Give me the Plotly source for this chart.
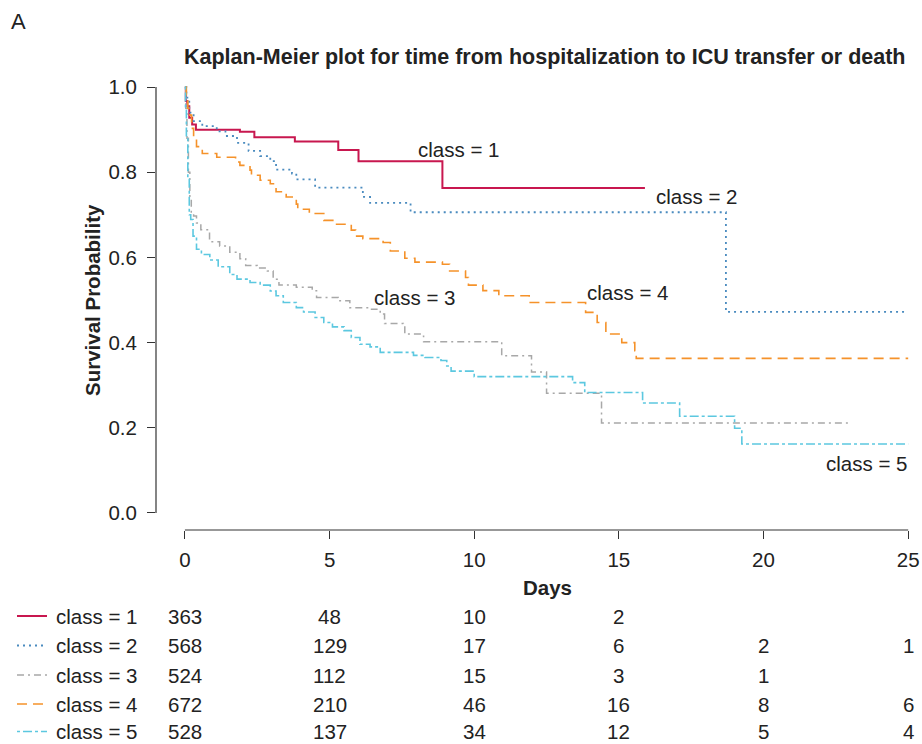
import plotly.graph_objects as go

# ---- data ----
c1_t = [0, 0.03, 0.08, 0.15, 0.25, 0.38, 1.9, 2.4, 3.8, 5.3, 6.0, 8.9, 15.9]
c1_s = [1.0, 0.967, 0.955, 0.928, 0.912, 0.900, 0.895, 0.882, 0.872, 0.852, 0.826, 0.763, 0.763]

c2_t = [0, 0.05, 0.15, 0.3, 0.6, 1.1, 1.4, 1.8, 2.2, 2.6, 2.95, 3.15, 3.7, 3.85, 4.5,
        6.15, 6.4, 7.8, 18.7, 24.9]
c2_s = [1.0, 0.975, 0.94, 0.920, 0.908, 0.896, 0.885, 0.869, 0.850, 0.838, 0.826, 0.806,
        0.797, 0.783, 0.764, 0.742, 0.728, 0.706, 0.472, 0.472]

c3_t = [0, 0.03, 0.07, 0.12, 0.17, 0.22, 0.3, 0.4, 0.55, 0.85, 1.2, 1.55, 1.9, 2.1, 2.5,
        2.85, 3.05, 3.25, 3.85, 4.4, 4.55, 5.3, 5.7, 6.45, 6.75, 6.9, 7.55, 7.6, 8.2, 8.25,
        10.95, 11.98, 12.5, 14.4, 23.05]
c3_s = [1.0, 0.95, 0.88, 0.80, 0.74, 0.705, 0.697, 0.681, 0.665, 0.637, 0.627, 0.612, 0.597,
        0.581, 0.575, 0.568, 0.549, 0.535, 0.530, 0.522, 0.506, 0.498, 0.482, 0.478, 0.467,
        0.445, 0.440, 0.420, 0.415, 0.402, 0.369, 0.331, 0.281, 0.211, 0.211]

c4_t = [0, 0.05, 0.1, 0.17, 0.23, 0.3, 0.4, 0.6, 1.1, 1.75, 1.9, 2.25, 2.3, 2.6, 2.95, 3.15,
        3.5, 3.85, 3.9, 4.3, 4.8, 5.2, 5.75, 5.9, 6.15, 6.85, 7.1, 7.6, 7.95, 8.9, 9.15, 9.7,
        9.8, 10.3, 10.85, 11.9, 13.85, 14.25, 14.55, 15.1, 15.55, 15.6, 25.0]
c4_s = [1.0, 0.977, 0.95, 0.934, 0.903, 0.875, 0.860, 0.844, 0.835, 0.824, 0.816, 0.805,
        0.793, 0.781, 0.773, 0.754, 0.742, 0.725, 0.713, 0.703, 0.687, 0.678, 0.664, 0.650,
        0.644, 0.635, 0.615, 0.598, 0.589, 0.584, 0.568, 0.553, 0.535, 0.522, 0.510, 0.494,
        0.471, 0.447, 0.420, 0.400, 0.381, 0.363, 0.363]

c5_t = [0, 0.02, 0.05, 0.1, 0.15, 0.2, 0.28, 0.4, 0.57, 0.86, 1.15, 1.55, 1.8, 2.25, 2.6,
        2.95, 3.15, 3.4, 3.85, 4.1, 4.5, 4.8, 5.1, 5.5, 5.75, 6.05, 6.4, 6.75, 7.9, 8.3, 8.85,
        9.05, 9.2, 10.0, 13.4, 13.82, 15.82, 17.1, 19.0, 19.25, 25.0]
c5_s = [1.0, 0.95, 0.88, 0.783, 0.70, 0.689, 0.650, 0.619, 0.607, 0.594, 0.578, 0.560, 0.549,
        0.541, 0.535, 0.521, 0.510, 0.494, 0.482, 0.472, 0.459, 0.447, 0.437, 0.428, 0.412,
        0.396, 0.390, 0.377, 0.370, 0.365, 0.358, 0.345, 0.333, 0.320, 0.306, 0.283, 0.258,
        0.227, 0.199, 0.162, 0.162]

class_names = ["class = 1", "class = 2", "class = 3", "class = 4", "class = 5"]
risk_times = [0, 5, 10, 15, 20, 25]
risk_c1 = [363, 48, 10, 2, None, None]
risk_c2 = [568, 129, 17, 6, 2, 1]
risk_c3 = [524, 112, 15, 3, 1, None]
risk_c4 = [672, 210, 46, 16, 8, 6]
risk_c5 = [528, 137, 34, 12, 5, 4]
x_ticks = [0, 5, 10, 15, 20, 25]
y_ticks = [0.0, 0.2, 0.4, 0.6, 0.8, 1.0]

# ---- styles ----
colors = ["#C8174F", "#4A8BBF", "#A8A8A8", "#F5922A", "#5CC8E0"]
dashes = ["solid", "2px,4px", "7px,4px,2px,4px", "10px,6px", "3px,3px,9px,3px"]
widths = [2, 1.8, 1.5, 1.6, 1.6]
FONT = "Liberation Sans, Arial, Helvetica, sans-serif"
TXT = "#222222"
FS = 20.5

W, H = 922, 744
ML, MR, MT, MB = 156, 0, 70, 214
PW, PH = W - ML - MR, H - MT - MB


def px(xp):
    return (xp - ML) / PW


def py(yp):
    return (MT + PH - yp) / PH


series = [(c1_t, c1_s), (c2_t, c2_s), (c3_t, c3_s), (c4_t, c4_s), (c5_t, c5_s)]
risks = [risk_c1, risk_c2, risk_c3, risk_c4, risk_c5]

fig = go.Figure()
for i, (t, s) in enumerate(series):
    fig.add_trace(go.Scatter(
        x=t, y=s, mode="lines", line_shape="hv", name=class_names[i],
        line=dict(color=colors[i], width=widths[i], dash=dashes[i]),
        showlegend=False, hoverinfo="skip"))

annotations = []
shapes = []

# axis lines (R style: only across the tick range)
shapes.append(dict(type="line", xref="x", yref="paper", x0=x_ticks[0], x1=x_ticks[-1],
                   y0=0, y1=0, line=dict(color="#333333", width=1.2)))
shapes.append(dict(type="line", xref="paper", yref="y", x0=0, x1=0,
                   y0=y_ticks[0], y1=y_ticks[-1], line=dict(color="#333333", width=1.2)))

# panel letter and title
annotations.append(dict(text="A", xref="paper", yref="paper", x=px(9), y=py(22),
                        xanchor="left", yanchor="middle", showarrow=False,
                        font=dict(family=FONT, size=22, color=TXT)))
annotations.append(dict(text="<b>Kaplan-Meier plot for time from hospitalization to ICU transfer or death</b>",
                        xref="paper", yref="paper", x=px(545), y=py(57),
                        xanchor="center", yanchor="middle", showarrow=False,
                        font=dict(family=FONT, size=21.5, color=TXT)))
# axis titles
annotations.append(dict(text="<b>Survival Probability</b>", xref="paper", yref="paper",
                        x=px(92), y=py(300), xanchor="center", yanchor="middle",
                        textangle=-90, showarrow=False,
                        font=dict(family=FONT, size=FS, color=TXT)))
annotations.append(dict(text="<b>Days</b>", xref="paper", yref="paper",
                        x=px(547), y=py(587), xanchor="center", yanchor="middle",
                        showarrow=False, font=dict(family=FONT, size=FS, color=TXT)))

# curve labels
label_pos = [(9.44, 0.853), (17.7, 0.742), (7.95, 0.507), (15.31, 0.518), (23.57, 0.117)]
for i, (lx, ly) in enumerate(label_pos):
    annotations.append(dict(text=class_names[i], xref="x", yref="y", x=lx, y=ly,
                            xanchor="center", yanchor="middle", showarrow=False,
                            font=dict(family=FONT, size=FS, color=TXT)))

# risk table
row_y = [616, 645.5, 675, 704, 731.5]
for i in range(5):
    shapes.append(dict(type="line", xref="paper", yref="paper", x0=px(17), x1=px(47),
                       y0=py(row_y[i]), y1=py(row_y[i]),
                       line=dict(color=colors[i], width=widths[i], dash=dashes[i])))
    annotations.append(dict(text=class_names[i], xref="paper", yref="paper",
                            x=px(54), y=py(row_y[i]), xanchor="left", yanchor="middle",
                            showarrow=False, font=dict(family=FONT, size=FS, color=TXT)))
    for tt, v in zip(risk_times, risks[i]):
        if v is None:
            continue
        annotations.append(dict(text=str(v), xref="x", yref="paper", x=tt, y=py(row_y[i]),
                                xanchor="center", yanchor="middle", showarrow=False,
                                font=dict(family=FONT, size=FS, color=TXT)))

fig.update_layout(
    width=W, height=H, margin=dict(l=ML, r=MR, t=MT, b=MB, pad=0),
    paper_bgcolor="white", plot_bgcolor="white",
    annotations=annotations, shapes=shapes,
    font=dict(family=FONT, size=FS, color=TXT),
)
fig.update_xaxes(range=[-1, -1 + PW / 28.93], tickvals=x_ticks, ticks="outside", ticklen=8,
                 tickcolor="#333333", tickwidth=1.2, showline=False, showgrid=False,
                 zeroline=False, tickfont=dict(family=FONT, size=FS, color=TXT),
                 ticklabelstandoff=3)
fig.update_yaxes(range=[-0.04, 1.04], tickvals=y_ticks, tickformat=".1f", ticks="outside",
                 ticklen=8, tickcolor="#333333", tickwidth=1.2, showline=False, showgrid=False,
                 zeroline=False, tickfont=dict(family=FONT, size=FS, color=TXT),
                 ticklabelstandoff=6)

fig.write_html("out.html")
